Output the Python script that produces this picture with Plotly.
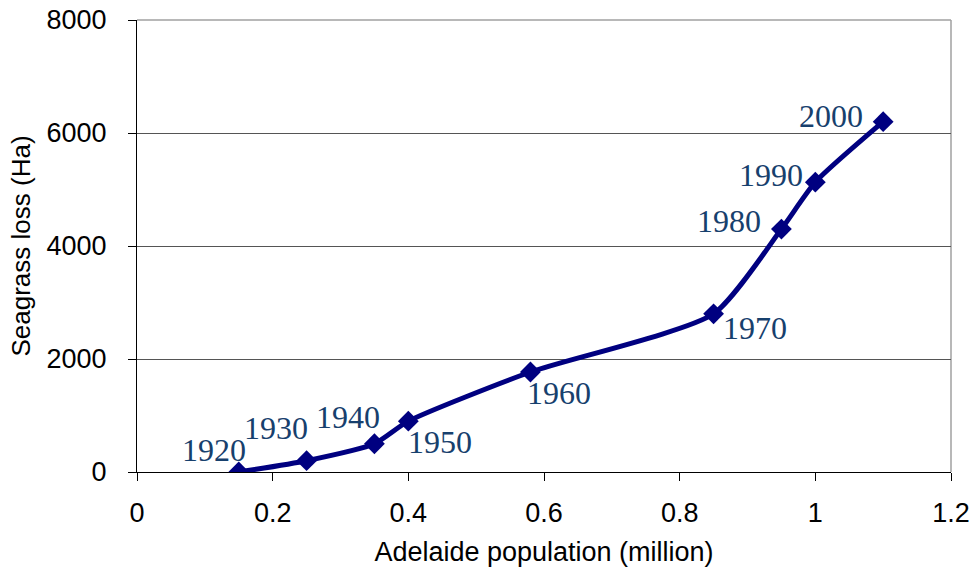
import plotly.graph_objects as go

# Data
years = ["1920", "1930", "1940", "1950", "1960", "1970", "1980", "1990", "2000"]
population = [0.15, 0.25, 0.35, 0.40, 0.58, 0.85, 0.95, 1.00, 1.10]
seagrass_loss = [0, 200, 500, 900, 1770, 2800, 4300, 5130, 6200]
x_ticks = [0, 0.2, 0.4, 0.6, 0.8, 1.0, 1.2]
x_tick_labels = ["0", "0.2", "0.4", "0.6", "0.8", "1", "1.2"]
y_ticks = [0, 2000, 4000, 6000, 8000]

# label pixel shifts (style)
label_shift = [(-25, 22), (-31, 33), (-26, 27), (32, -21), (29, -21),
               (41, -14), (-52, 8), (-44, 7), (-52, 6)]

fig = go.Figure()
fig.add_trace(go.Scatter(
    x=population, y=seagrass_loss, mode="lines+markers",
    line=dict(color="#000080", width=5, shape="spline", smoothing=0.6),
    marker=dict(symbol="diamond", size=16, color="#000080"),
    showlegend=False, hoverinfo="skip"))

for xv, yv, lab, (dx, dy) in zip(population, seagrass_loss, years, label_shift):
    fig.add_annotation(x=xv, y=yv, xref="x", yref="y", text=lab, showarrow=False,
                       xshift=dx, yshift=dy,
                       font=dict(family="Liberation Serif", size=32, color="#17406D"))

# gray plot border on right and top
fig.add_shape(type="line", xref="x domain", yref="y domain", x0=1, x1=1, y0=0, y1=1,
              line=dict(color="#a0a0a0", width=1.5), layer="below")
fig.add_shape(type="line", xref="x domain", yref="y domain", x0=0, x1=1, y0=1, y1=1,
              line=dict(color="#a0a0a0", width=1.5), layer="below")

fig.update_layout(
    width=973, height=571,
    margin=dict(l=137, r=22, t=20, b=99),
    paper_bgcolor="white", plot_bgcolor="white",
    font=dict(family="Liberation Sans", color="black"),
    xaxis=dict(range=[0, 1.2], tickvals=x_ticks, ticktext=x_tick_labels,
               automargin=False, ticklabeloverflow="allow",
               showgrid=False, zeroline=False, showline=True, linecolor="black", linewidth=1.2,
               ticks="outside", ticklen=8, tickcolor="black", ticklabelstandoff=8,
               tickfont=dict(size=27, family="Liberation Sans"),
               title=dict(text="Adelaide population (million)", font=dict(size=27))),
    yaxis=dict(range=[0, 8000], tickvals=y_ticks, automargin=False,
               ticklabeloverflow="allow",
               showgrid=True, gridcolor="#555555", gridwidth=1, zeroline=False,
               showline=True, linecolor="black", linewidth=1.2,
               ticks="outside", ticklen=8, tickcolor="black", ticklabelstandoff=16,
               tickfont=dict(size=27, family="Liberation Sans"),
               title=dict(text="Seagrass loss (Ha)", font=dict(size=26), standoff=8)),
)

fig.write_html("out.html", config={"displayModeBar": False},
               post_script="document.body.style.margin='0';document.body.style.overflow='hidden';")
